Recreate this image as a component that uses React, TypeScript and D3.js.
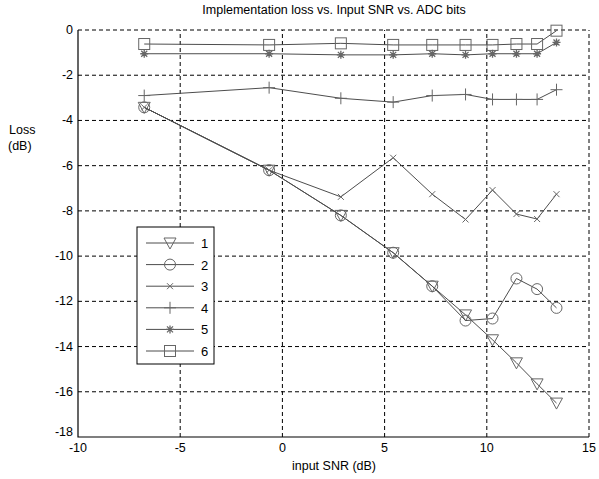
import React from 'react';
import * as d3 from 'd3';

// input SNR (dB) at each measured point
const snr = [-6.76, -0.65, 2.86, 5.42, 7.33, 8.96, 10.28, 11.45, 12.46, 13.41];

// implementation loss (dB) per ADC bit count
const bits1 = [-3.42, -6.2, -8.2, -9.85, -11.33, -12.6, -13.7, -14.72, -15.65, -16.5];
const bits2 = [-3.42, -6.2, -8.2, -9.85, -11.33, -12.85, -12.76, -10.99, -11.46, -12.29];
const bits3 = [-3.42, -6.2, -7.38, -5.65, -7.26, -8.38, -7.08, -8.14, -8.36, -7.26];
const bits4 = [-2.9, -2.55, -3.02, -3.19, -2.9, -2.85, -3.07, -3.07, -3.07, -2.64];
const bits5 = [-1.05, -1.05, -1.1, -1.1, -1.05, -1.1, -1.05, -1.05, -1.05, -0.55];
const bits6 = [-0.62, -0.66, -0.59, -0.66, -0.66, -0.66, -0.66, -0.62, -0.62, -0.03];

const seriesNames = ['1', '2', '3', '4', '5', '6'];
const seriesValues = [bits1, bits2, bits3, bits4, bits5, bits6];
const markerKinds = ['triangle', 'circle', 'x', 'plus', 'star', 'square'];

const xTicks = [-10, -5, 0, 5, 10, 15];
const yTicks = [0, -2, -4, -6, -8, -10, -12, -14, -16, -18];

const W = 599;
const H = 479;
const margin = { top: 30, right: 10, bottom: 42, left: 78 };
const font = '"Liberation Sans", Arial, sans-serif';

const lineColor = '#4d4d4d';
const markColor = '#666';

const Marker = ({ kind }: { kind: string }) => {
  const p = { fill: 'none', stroke: markColor, strokeWidth: 1 };
  switch (kind) {
    case 'triangle':
      return <path d="M-6,-5L6,-5L0,6Z" {...p} />;
    case 'circle':
      return <circle r={5.5} {...p} />;
    case 'x':
      return <path d="M-3,-3L3,3M-3,3L3,-3" {...p} />;
    case 'plus':
      return <path d="M-6,0L6,0M0,-6L0,6" {...p} />;
    case 'star':
      return <path d="M-4,0L4,0M0,-4L0,4M-3,-3L3,3M-3,3L3,-3" {...p} strokeWidth={1.3} />;
    case 'square':
      return <rect x={-5.5} y={-5.5} width={11} height={11} {...p} />;
    default:
      return null;
  }
};

const App = () => {
  const x = d3.scaleLinear().domain([-10, 15]).range([margin.left, W - margin.right]);
  const y = d3.scaleLinear().domain([-18, 0]).range([H - margin.bottom, margin.top]);

  const line = d3
    .line<number>()
    .x((_, i) => x(snr[i]))
    .y((d) => y(d));

  // legend geometry
  const lg = { x: 137, y: 227, w: 77, h: 137, row: 21.6 };

  return (
    <div style={{ position: 'fixed', left: 0, top: 0 }}>
      <svg width={W} height={H} style={{ display: 'block', background: '#fff' }}>
        {/* grid */}
        <g stroke="#000" strokeWidth={1} strokeDasharray="4,3">
          {xTicks.slice(1).map((t) => (
            <line key={'gx' + t} x1={x(t)} x2={x(t)} y1={y(-18)} y2={y(0)} />
          ))}
          {yTicks.slice(0, -1).map((t) => (
            <line key={'gy' + t} x1={x(-10)} x2={x(15)} y1={y(t)} y2={y(t)} />
          ))}
        </g>

        {/* axes */}
        <path
          d={`M${x(-10)},${y(0)}L${x(-10)},${y(-18)}L${x(15)},${y(-18)}`}
          fill="none"
          stroke="#000"
          strokeWidth={1.2}
        />

        {/* series */}
        {seriesValues.map((vals, si) => (
          <g key={seriesNames[si]}>
            <path d={line(vals) || ''} fill="none" stroke={lineColor} strokeWidth={1} />
            {vals.map((v, i) => (
              <g key={i} transform={`translate(${x(snr[i])},${y(v)})`}>
                <Marker kind={markerKinds[si]} />
              </g>
            ))}
          </g>
        ))}

        {/* tick labels */}
        <g fontFamily={font} fontSize={12.5} fill="#000">
          {yTicks.map((t) => (
            <text key={'ty' + t} x={x(-10) - 5} y={y(t) + (t === -18 ? -1 : 4)} textAnchor="end">
              {t}
            </text>
          ))}
          {xTicks.map((t) => (
            <text key={'tx' + t} x={x(t)} y={y(-18) + 15} textAnchor="middle">
              {t}
            </text>
          ))}
        </g>

        {/* titles */}
        <text x={334} y={14} textAnchor="middle" fontFamily={font} fontSize={12.5}>
          Implementation loss vs. Input SNR vs. ADC bits
        </text>
        <text x={334} y={470} textAnchor="middle" fontFamily={font} fontSize={12.5}>
          input SNR (dB)
        </text>
        <text x={9} y={134} fontFamily={font} fontSize={12.5}>
          Loss
        </text>
        <text x={8} y={150} fontFamily={font} fontSize={12.5}>
          (dB)
        </text>

        {/* legend */}
        <g>
          <rect x={lg.x} y={lg.y} width={lg.w} height={lg.h} fill="#fff" stroke="#000" strokeWidth={1} />
          {seriesNames.map((name, i) => {
            const cy = lg.y + 16 + i * lg.row;
            return (
              <g key={'lg' + name}>
                <line x1={lg.x + 9} x2={lg.x + 57} y1={cy} y2={cy} stroke={lineColor} />
                <g transform={`translate(${lg.x + 33},${cy})`}>
                  <Marker kind={markerKinds[i]} />
                </g>
                <text x={lg.x + 64} y={cy + 5} fontFamily={font} fontSize={13}>
                  {name}
                </text>
              </g>
            );
          })}
        </g>
      </svg>
    </div>
  );
};

export default App;
